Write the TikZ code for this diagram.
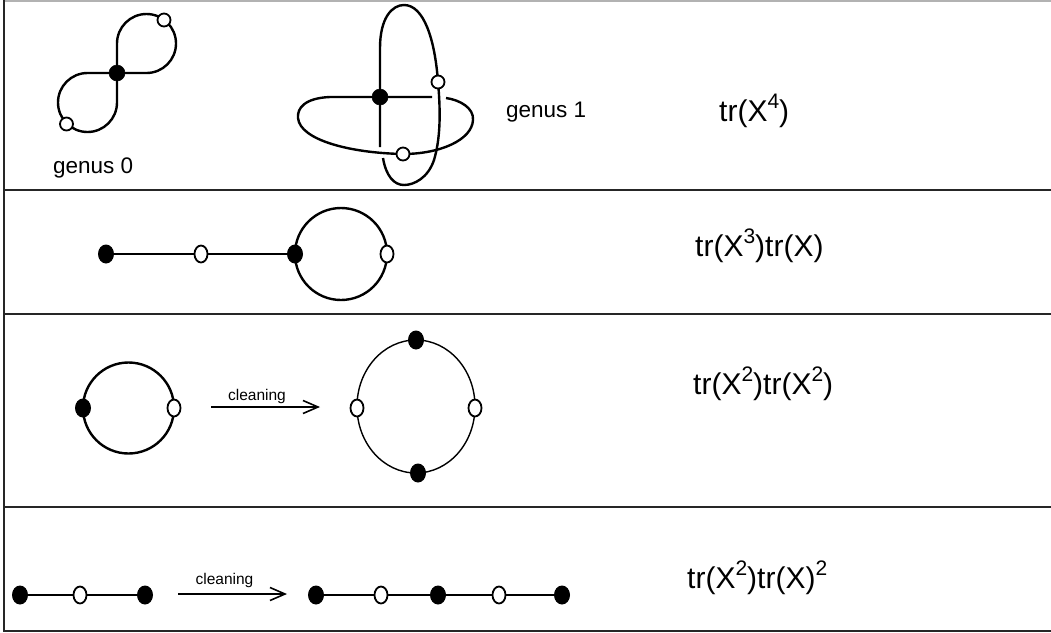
\documentclass[tikz,border=0pt]{standalone}
\usepackage{fontspec}
\setmainfont{Liberation Sans}
\usetikzlibrary{arrows.meta,shapes.geometric}
\newcommand{\supx}[1]{\raisebox{13pt}{\fontsize{21}{21}\selectfont #1}}
\begin{document}
\begin{tikzpicture}[x=1pt,y=-1pt,line join=round,
  edge/.style={line width=2.4pt},
  thinedge/.style={line width=1.4pt},
  bv/.style={circle,fill=black,draw=black,line width=0.5pt,inner sep=0pt,minimum size=16pt},
  wv/.style={circle,fill=white,draw=black,line width=1.8pt,inner sep=0pt,minimum size=13pt},
  bvo/.style={ellipse,fill=black,inner sep=0pt,minimum width=16pt,minimum height=19pt},
  wvo/.style={ellipse,fill=white,draw=black,line width=1.8pt,inner sep=0pt,minimum width=13pt,minimum height=17pt},
  formula/.style={anchor=base west,inner sep=0pt,font=\fontsize{30}{30}\selectfont},
  genus/.style={anchor=base west,inner sep=0pt,font=\fontsize{22.5}{22.5}\selectfont},
  clean/.style={anchor=base,inner sep=0pt,font=\fontsize{15.5}{15.5}\selectfont},
  arr/.style={line width=2.4pt,-{Straight Barb[length=15pt,width=13pt,line width=1.6pt]}}]
\useasboundingbox (0,0) rectangle (1051,632);
% frame
\draw[gray!60,line width=1.5pt] (4,0.75) -- (1051,0.75);
\draw[black!85,line width=1.5pt] (4,0) -- (4,632);
\foreach \yy in {190,314,507,631} \draw[black!85,line width=2pt] (4,\yy) -- (1051,\yy);

% ---- row 1: genus 0
\draw[edge] (117,73) -- (117,43.5) arc[start angle=180,end angle=450,radius=29.5] -- cycle;
\draw[edge] (117,73) -- (117,102.5) arc[start angle=0,end angle=270,radius=29.5] -- cycle;
\node[bv] (g0c) at (117,73) {};
\node[wv] (g0a) at (164,20) {};
\node[wv] (g0b) at (66.5,124) {};
\node[genus] (lg0) at (53,173) {genus 0};

% ---- row 1: genus 1
\draw[edge] (380,147) -- (380,48) .. controls (380,18) and (392,5) .. (404,5)
  .. controls (424,5) and (435,40) .. (438,82)
  .. controls (441,115) and (440,140) .. (434,160)
  .. controls (428,178) and (414,185) .. (404,185)
  .. controls (394,185) and (386,176) .. (383,158);
\draw[edge] (432,97) -- (330,97) .. controls (305,98) and (297,108) .. (298,118)
  .. controls (300,140) and (350,153) .. (403,154)
  .. controls (440,154) and (472,140) .. (473,120)
  .. controls (474,108) and (460,100) .. (446,98);
\node[bv] (g1c) at (380,97) {};
\node[wv] (g1a) at (438,82) {};
\node[wv] (g1b) at (403,154) {};
\node[genus] (lg1) at (506,117) {genus 1};
\node[formula] (f1) at (719,121) {tr(X\supx{4})};

% ---- row 2
\draw[edge] (341,254) circle[radius=46];
\node[bvo] (r2a) at (106,254) {};
\node[wvo] (r2b) at (201,254) {};
\node[bvo] (r2c) at (295,254) {};
\node[wvo] (r2d) at (387,254) {};
\draw[edge] (r2a) -- (r2b) -- (r2c);
\node[formula] (f2) at (695,256) {tr(X\supx{3})tr(X)};

% ---- row 3
\draw[edge] (128.5,408) circle[radius=45.5];
\node[bvo] (r3a) at (83,408) {};
\node[wvo] (r3b) at (174,408) {};
\coordinate (a3s) at (211,407);
\coordinate (a3e) at (320,407);
\draw[arr] (a3s) -- (a3e);
\node[clean] (c3) at (257,400) {cleaning};
\draw[thinedge] (416,406.5) ellipse[x radius=59,y radius=66.5];
\node[bvo] (r3c) at (416,340) {};
\node[bvo] (r3d) at (418,473) {};
\node[wvo] (r3e) at (357,408) {};
\node[wvo] (r3f) at (475,408) {};
\node[formula] (f3) at (693,394) {tr(X\supx{2})tr(X\supx{2})};

% ---- row 4
\node[bvo] (p1) at (20,595) {};
\node[wvo] (p2) at (80,595) {};
\node[bvo] (p3) at (145,595) {};
\draw[edge] (p1) -- (p2) -- (p3);
\coordinate (a4s) at (178,594);
\coordinate (a4e) at (287,594);
\draw[arr] (a4s) -- (a4e);
\node[clean] (c4) at (224.5,584) {cleaning};
\node[bvo] (q1) at (316,595) {};
\node[wvo] (q2) at (381,595) {};
\node[bvo] (q3) at (438,595) {};
\node[wvo] (q4) at (499,595) {};
\node[bvo] (q5) at (562,595) {};
\draw[edge] (q1) -- (q2) -- (q3) -- (q4) -- (q5);
\node[formula] (f4) at (687,588) {tr(X\supx{2})tr(X)\supx{2}};
\end{tikzpicture}
\end{document}
